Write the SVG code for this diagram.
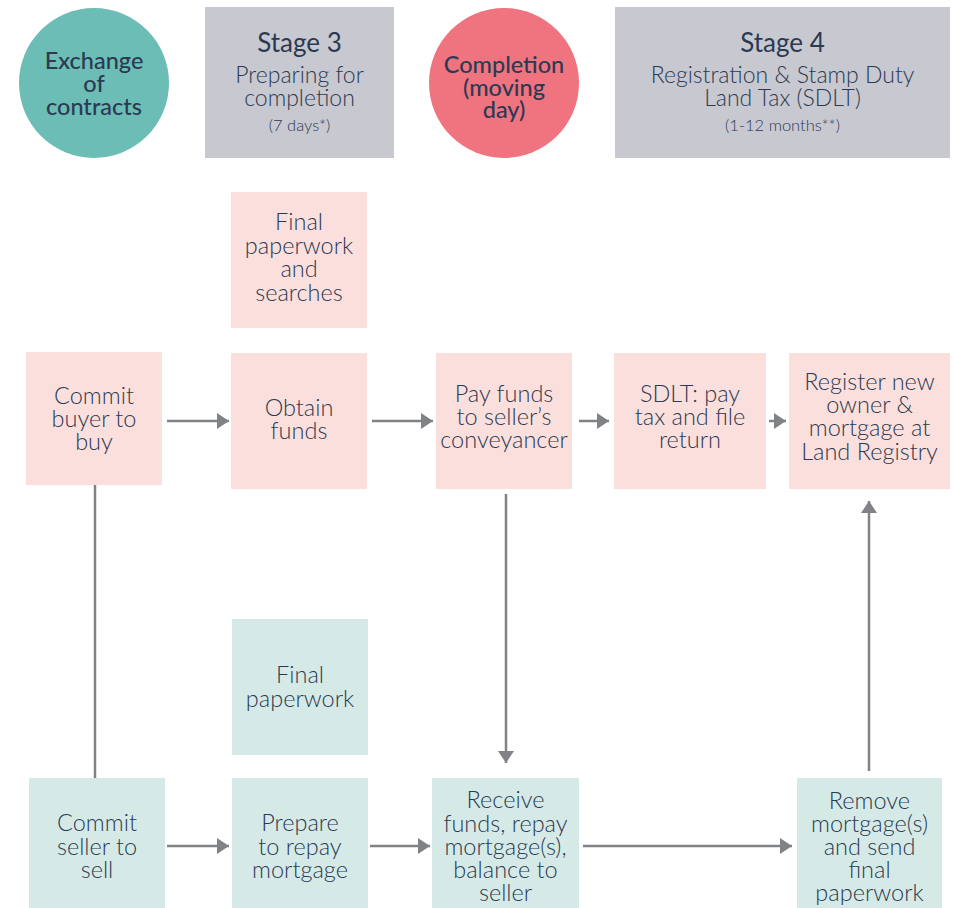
<svg xmlns="http://www.w3.org/2000/svg" width="955" height="908" viewBox="0 0 955 908">
<defs>
<style>
text{font-family:Lato,"Open Sans","Liberation Sans",sans-serif;fill:#2b3a52;text-anchor:middle}
.b{font-size:23.5px;font-weight:300}
.c{font-size:23.5px;font-weight:500}
.h{font-size:26px;font-weight:400}
.s{font-size:23px;font-weight:300}
.n{font-size:16.5px;font-weight:300}
.pink{fill:#fbdfdc}
.green{fill:#d5eae7}
.stage{fill:#c8c8d0}
.ln{stroke:#808285;stroke-width:2.5;fill:none}
</style>
<marker id="ah" markerUnits="userSpaceOnUse" markerWidth="13" markerHeight="16" refX="12" refY="8" orient="auto">
<path d="M0,0 L12,8 L0,16 z" fill="#808285"/>
</marker>
</defs>
<rect width="955" height="908" fill="#ffffff"/>

<g id="exchange">
<circle cx="94" cy="83" r="75" fill="#6cbdb6"/>
<text class="c" x="94" y="69">Exchange</text>
<text class="c" x="94" y="92">of</text>
<text class="c" x="94" y="115">contracts</text>
</g>

<g id="stage3">
<rect class="stage" x="205" y="7" width="189" height="151"/>
<text class="h" x="299.5" y="52">Stage 3</text>
<text class="s" x="299.5" y="83">Preparing for</text>
<text class="s" x="299.5" y="106">completion</text>
<text class="n" x="299.5" y="131">(7 days*)</text>
</g>

<g id="completion">
<circle cx="504" cy="83" r="75" fill="#f07380"/>
<text class="c" x="504" y="73">Completion</text>
<text class="c" x="504" y="96">(moving</text>
<text class="c" x="504" y="118">day)</text>
</g>

<g id="stage4">
<rect class="stage" x="615" y="7" width="335" height="151"/>
<text class="h" x="782.5" y="52">Stage 4</text>
<text class="s" x="782.5" y="83">Registration &amp; Stamp Duty</text>
<text class="s" x="782.5" y="106">Land Tax (SDLT)</text>
<text class="n" x="782.5" y="131">(1-12 months**)</text>
</g>

<g id="final-searches">
<rect class="pink" x="231" y="192" width="136" height="136"/>
<text class="b" x="299" y="230">Final</text>
<text class="b" x="299" y="254">paperwork</text>
<text class="b" x="299" y="277">and</text>
<text class="b" x="299" y="301">searches</text>
</g>

<g id="commit-buyer">
<rect class="pink" x="26" y="352" width="136" height="133"/>
<text class="b" x="94" y="404">Commit</text>
<text class="b" x="94" y="427">buyer to</text>
<text class="b" x="94" y="450">buy</text>
</g>

<g id="obtain-funds">
<rect class="pink" x="231" y="353" width="136" height="136"/>
<text class="b" x="299" y="416">Obtain</text>
<text class="b" x="299" y="439">funds</text>
</g>

<g id="pay-funds">
<rect class="pink" x="436" y="353" width="136" height="136"/>
<text class="b" x="504" y="402">Pay funds</text>
<text class="b" x="504" y="425">to seller’s</text>
<text class="b" x="504" y="448">conveyancer</text>
</g>

<g id="sdlt">
<rect class="pink" x="614" y="353" width="152" height="136"/>
<text class="b" x="690" y="402">SDLT: pay</text>
<text class="b" x="690" y="425">tax and file</text>
<text class="b" x="690" y="448">return</text>
</g>

<g id="register">
<rect class="pink" x="789" y="353" width="161" height="136"/>
<text class="b" x="869.5" y="390">Register new</text>
<text class="b" x="869.5" y="413">owner &amp;</text>
<text class="b" x="869.5" y="436">mortgage at</text>
<text class="b" x="869.5" y="460">Land Registry</text>
</g>

<g id="final-paperwork">
<rect class="green" x="232" y="619" width="136" height="136"/>
<text class="b" x="300" y="683">Final</text>
<text class="b" x="300" y="707">paperwork</text>
</g>

<g id="commit-seller">
<rect class="green" x="29" y="778" width="136" height="130"/>
<text class="b" x="97" y="831">Commit</text>
<text class="b" x="97" y="855">seller to</text>
<text class="b" x="97" y="878">sell</text>
</g>

<g id="prepare-repay">
<rect class="green" x="232" y="778" width="136" height="130"/>
<text class="b" x="300" y="831">Prepare</text>
<text class="b" x="300" y="855">to repay</text>
<text class="b" x="300" y="878">mortgage</text>
</g>

<g id="receive-funds">
<rect class="green" x="432" y="778" width="147" height="130"/>
<text class="b" x="505.5" y="808">Receive</text>
<text class="b" x="505.5" y="832">funds, repay</text>
<text class="b" x="505.5" y="855">mortgage(s),</text>
<text class="b" x="505.5" y="878">balance to</text>
<text class="b" x="505.5" y="901">seller</text>
</g>

<g id="remove-mortgage">
<rect class="green" x="797" y="778" width="145" height="130"/>
<text class="b" x="869.5" y="809">Remove</text>
<text class="b" x="869.5" y="832">mortgage(s)</text>
<text class="b" x="869.5" y="855">and send</text>
<text class="b" x="869.5" y="878">final</text>
<text class="b" x="869.5" y="901">paperwork</text>
</g>

<g id="connectors">
<line class="ln" x1="167" y1="421" x2="229" y2="421" marker-end="url(#ah)"/>
<line class="ln" x1="372" y1="421" x2="433" y2="421" marker-end="url(#ah)"/>
<line class="ln" x1="579" y1="421" x2="609" y2="421" marker-end="url(#ah)"/>
<line class="ln" x1="769" y1="421" x2="786" y2="421" marker-end="url(#ah)"/>
<line class="ln" x1="167" y1="846" x2="229" y2="846" marker-end="url(#ah)"/>
<line class="ln" x1="370" y1="846" x2="430" y2="846" marker-end="url(#ah)"/>
<line class="ln" x1="583" y1="846" x2="792" y2="846" marker-end="url(#ah)"/>
<line class="ln" x1="95" y1="485" x2="95" y2="778"/>
<line class="ln" x1="506" y1="494" x2="506" y2="763" marker-end="url(#ah)"/>
<line class="ln" x1="869" y1="771" x2="869" y2="501" marker-end="url(#ah)"/>
</g>
</svg>
